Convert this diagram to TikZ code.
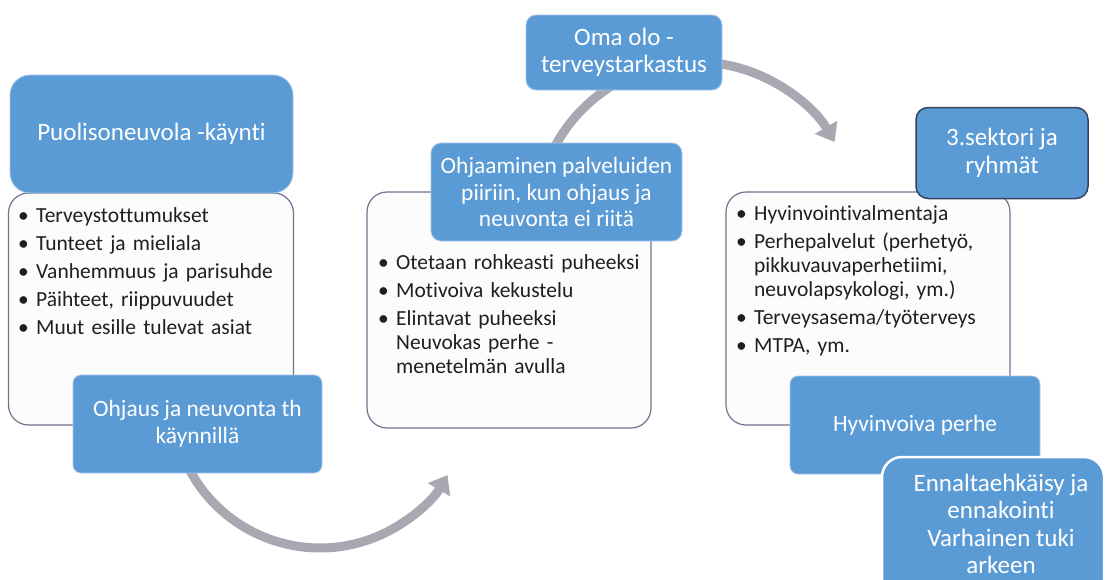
\documentclass[tikz,border=0pt]{standalone}
\usepackage{fontspec}
\setmainfont{Carlito}[Ligatures=NoCommon]
\usetikzlibrary{arrows.meta}

\definecolor{boxblue}{HTML}{5B9BD5}
\definecolor{boxedge}{HTML}{A9C8EA}
\definecolor{darkedge}{HTML}{34435F}
\definecolor{framegray}{HTML}{75708F}
\definecolor{panelfill}{HTML}{FCFCFC}
\definecolor{arcgray}{HTML}{A8A7B2}

% bullet item and indented continuation line
\newcommand{\bitem}[1]{\par\noindent\makebox[18pt][l]{\textbullet}#1}
\newcommand{\bcont}{\newline\hspace*{18pt}}

\tikzset{
  bluebox/.style={draw=boxedge, line width=0.8pt, fill=boxblue, text=white,
    font=\fontsize{23.4}{26.5}\selectfont, align=center, inner sep=0pt},
  bigtitle/.style={font=\fontsize{25}{27.5}\selectfont},
  panel/.style={draw=framegray, line width=1.2pt, fill=panelfill,
    rounded corners=20pt, inner sep=0pt},
  flow/.style={draw=arcgray, line width=9pt,
    -{Triangle[length=17pt,width=25pt]}},
  bullets/.style={anchor=north west, align=left, text width=#1,
    font=\fontsize{21.5}{24}\selectfont, inner sep=0pt, text=black!88},
}

\begin{document}
\begin{tikzpicture}[x=1pt,y=-1pt]
  \clip (0,0) rectangle (1109,579);
  \fill[white] (0,0) rectangle (1109,579);

  % curved flow arrows (behind the boxes)
  \coordinate (flowA) at (185.9,462.5);
  \draw[flow] (flowA) arc[start angle=155, end angle=30.5, radius=148];
  \coordinate (flowB) at (545.6,167.3);
  \draw[flow] (flowB) arc[start angle=200, end angle=330, radius=160];

  % left column
  \node[panel, minimum width=285pt, minimum height=232pt] (puolPanel) at (151,309) {};
  \node[bluebox, bigtitle, rounded corners=20pt, minimum width=283pt, minimum height=118pt]
    (puolHead) at (151.5,134) {Puolisoneuvola -käynti};
  \node[bullets=270pt] (puolList) at (18,194) {%
    \setlength{\parskip}{4pt}%
    \bitem{Terveystottumukset}
    \bitem{Tunteet ja mieliala}
    \bitem{Vanhemmuus ja parisuhde}
    \bitem{Päihteet, riippuvuudet}
    \bitem{Muut esille tulevat asiat}};
  \node[bluebox, rounded corners=8pt, minimum width=249pt, minimum height=98pt]
    (puolGuide) at (197.5,424) {Ohjaus ja neuvonta th\\käynnillä};

  % middle column
  \node[bluebox, bigtitle, rounded corners=10pt, minimum width=196pt, minimum height=75pt]
    (omaOlo) at (624,52.5) {Oma olo -\\terveystarkastus};
  \node[panel, minimum width=284pt, minimum height=236pt] (midPanel) at (509,310) {};
  \node[bluebox, rounded corners=10pt, minimum width=251pt, minimum height=98pt]
    (ohjHead) at (556.5,192) {Ohjaaminen palveluiden\\piiriin, kun ohjaus ja\\neuvonta ei riitä};
  \node[bullets=270pt] (midList) at (378,241) {%
    \setlength{\parskip}{4pt}%
    \bitem{Otetaan rohkeasti puheeksi}
    \bitem{Motivoiva kekustelu}
    \bitem{Elintavat puheeksi\bcont Neuvokas perhe -\bcont menetelmän avulla}};

  % right column
  \node[panel, minimum width=284pt, minimum height=233pt] (rightPanel) at (868,308.5) {};
  \node[bluebox, bigtitle, draw=darkedge, line width=1.5pt, rounded corners=12pt,
    minimum width=172pt, minimum height=91pt]
    (sektori) at (1002,153) {3.sektori ja\\ryhmät};
  \node[bullets=270pt] (rightList) at (736,192) {%
    \setlength{\parskip}{4pt}%
    \bitem{Hyvinvointivalmentaja}
    \bitem{Perhepalvelut (perhetyö,\bcont pikkuvauvaperhetiimi,\bcont neuvolapsykologi, ym.)}
    \bitem{Terveysasema/työterveys}
    \bitem{MTPA, ym.}};
  \node[bluebox, rounded corners=8pt, minimum width=250pt, minimum height=98pt]
    (hyvPerhe) at (915,425) {Hyvinvoiva perhe};
  \node[bluebox, draw=white, line width=2.5pt, rounded corners=20pt,
    minimum width=222pt, minimum height=160pt]
    (ennalta) at (993,537) {};
  \node[text=white, bigtitle, align=center, inner sep=0pt]
    (ennaltaText) at (1001,524) {Ennaltaehkäisy ja\\ennakointi\\Varhainen tuki\\arkeen};
\end{tikzpicture}
\end{document}
